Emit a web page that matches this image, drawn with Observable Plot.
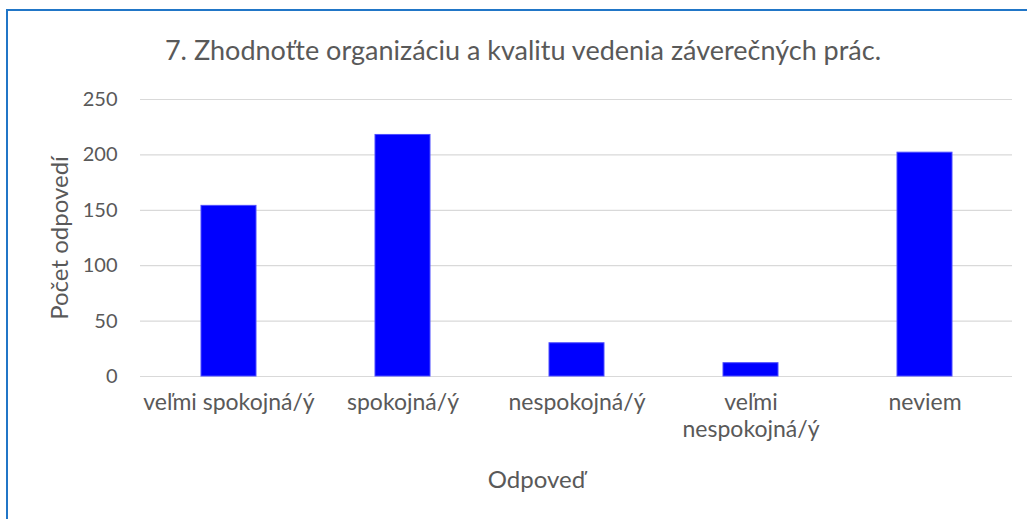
<!DOCTYPE html>
<html>
<head>
<meta charset="utf-8">
<script src="https://cdn.jsdelivr.net/npm/d3@7"></script>
<script src="https://cdn.jsdelivr.net/npm/@observablehq/plot@0.6"></script>
<style>
  html, body { margin: 0; padding: 0; background: #fff; }
  #wrap { position: relative; width: 1027px; height: 519px; overflow: hidden; font-family: Lato, sans-serif; }
  #frame { position: absolute; left: 6px; top: 9px; width: 1100px; height: 600px; border: 2px solid #2176c7; box-sizing: border-box; pointer-events: none; }
  #title { position: relative; height: 80px; box-sizing: border-box; padding-top: 34px; width: 1046px; text-align: center; font-size: 27px; line-height: 32px; color: #595959; white-space: nowrap; }
  #chart { position: relative; }
</style>
</head>
<body>
<div id="wrap">
  <div id="frame"></div>
  <div id="title">7. Zhodnoťte organizáciu a kvalitu vedenia záverečných prác.</div>
  <div id="chart"></div>
</div>
<script>
const categories = ["veľmi spokojná/ý", "spokojná/ý", "nespokojná/ý", "veľmi nespokojná/ý", "neviem"];
const counts = [154, 218, 30, 12, 202];
const tickLabels = ["veľmi spokojná/ý", "spokojná/ý", "nespokojná/ý", "veľmi\nnespokojná/ý", "neviem"];
const yTicks = [0, 50, 100, 150, 200, 250];
const xTitle = "Odpoveď";
const yTitle = "Počet odpovedí";

const data = categories.map((c, i) => ({cat: c, n: counts[i]}));

const chart = Plot.plot({
  width: 1027,
  height: 439,
  marginTop: 19,
  marginBottom: 143,
  marginLeft: 140,
  marginRight: 15,
  style: {fontFamily: "Lato, sans-serif", color: "#595959", background: "transparent", overflow: "visible"},
  x: {domain: categories, paddingInner: 0.684, paddingOuter: 0.342},
  y: {domain: [0, 250]},
  marks: [
    Plot.gridY(yTicks, {stroke: "#d9d9d9", strokeOpacity: 1, strokeWidth: 1.2}),
    Plot.barY(data, {x: "cat", y: "n", fill: "#0000ff", stroke: "#4d4dff", strokeWidth: 1}),
    Plot.axisY(yTicks, {tickSize: 0, tickPadding: 23, fontSize: 20, label: null}),
    Plot.axisX({tickSize: 0, tickPadding: 14, fontSize: 23, lineHeight: 1.17,
      tickFormat: d => tickLabels[categories.indexOf(d)], label: null}),
    Plot.text([xTitle], {text: d => d, frameAnchor: "bottom", lineAnchor: "middle", textAnchor: "middle", dy: 104, dx: -40, fontSize: 24, fill: "#595959"}),
    Plot.text([yTitle], {text: d => d, frameAnchor: "left", lineAnchor: "middle", textAnchor: "middle", rotate: -90, dx: -80, fontSize: 24, fill: "#595959"})
  ]
});
document.getElementById("chart").appendChild(chart);
</script>
</body>
</html>
